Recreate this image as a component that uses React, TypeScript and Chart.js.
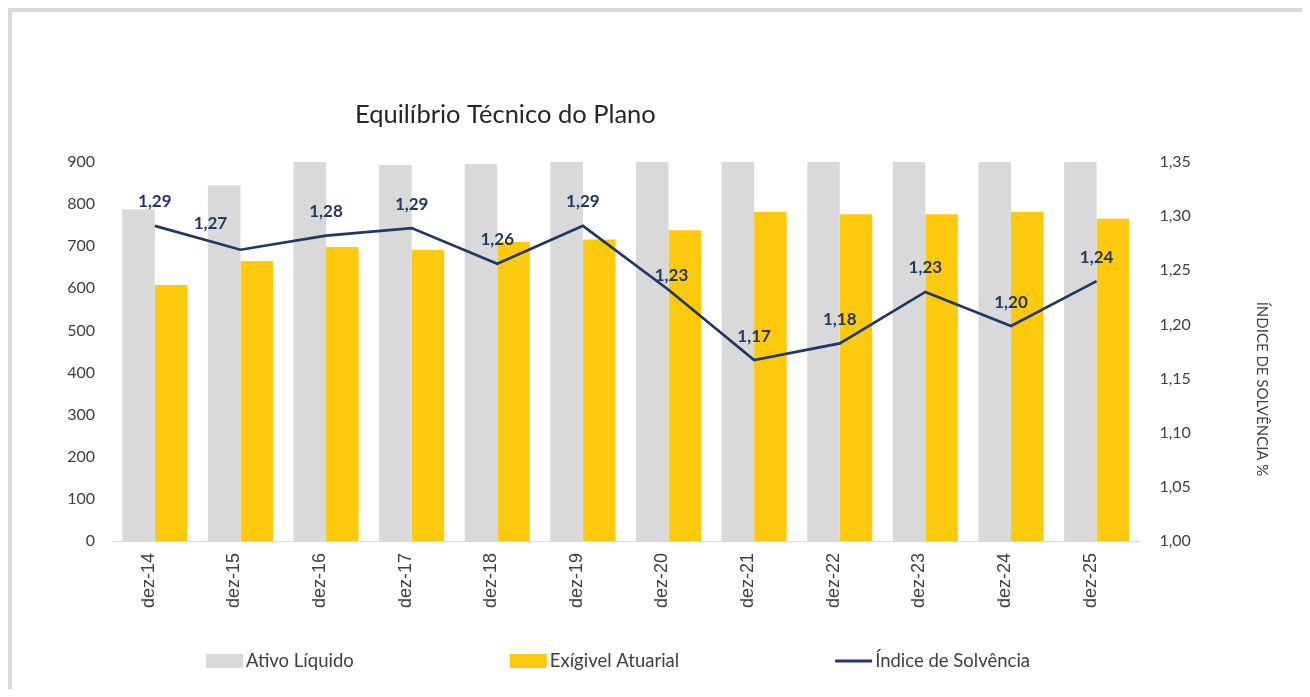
import React, { useEffect, useRef } from 'react';
import { Chart, registerables } from 'chart.js';

Chart.register(...registerables);

// ---------- data ----------
const categories = ['dez-14', 'dez-15', 'dez-16', 'dez-17', 'dez-18', 'dez-19', 'dez-20', 'dez-21', 'dez-22', 'dez-23', 'dez-24', 'dez-25'];
const ativoLiquido = [788, 845, 903, 893, 895, 930, 912, 917, 920, 957, 942, 952];
const exigivelAtuarial = [608, 665, 698, 691, 710, 716, 738, 782, 776, 776, 782, 765];
const indiceSolvencia = [1.291, 1.269, 1.282, 1.289, 1.256, 1.291, 1.232, 1.167, 1.1825, 1.23, 1.1985, 1.24];
const seriesNames = ['Ativo Líquido', 'Exígivel Atuarial', 'Índice de Solvência'];
const leftAxis = { min: 0, max: 900, step: 100 };
const rightAxis = { min: 1.0, max: 1.35, step: 0.05 };
const chartTitle = 'Equilíbrio Técnico do Plano';
const rightAxisTitle = 'ÍNDICE DE SOLVÊNCIA %';

// ---------- styles ----------
const GREY = '#D9D9D9';
const YELLOW = '#FFC90E';
const NAVY = '#1F3864';
const TEXT = '#404040';
const FONT = 'Lato';
// manual nudges of the line's value labels (dx, dy), like the original
const labelNudges: [number, number][] = [[0, 0], [-30, -2], [0, 0], [0, 0], [0, 0], [0, 0], [3, 10], [0, 0], [0, 0], [0, 0], [0, 0], [0, 0]];

const fmt = (v: number) => v.toFixed(2).replace('.', ',');

const overlayPlugin = {
  id: 'overlay',
  afterDatasetsDraw(chart: any) {
    const ctx = chart.ctx;
    const idx = chart.data.datasets.findIndex((d: any) => d.type === 'line');
    const meta = chart.getDatasetMeta(idx);
    ctx.save();
    ctx.font = `bold 17px ${FONT}`;
    ctx.fillStyle = NAVY;
    ctx.textAlign = 'center';
    ctx.textBaseline = 'middle';
    meta.data.forEach((pt: any, i: number) => {
      const [dx, dy] = labelNudges[i] || [0, 0];
      ctx.fillText(fmt(indiceSolvencia[i]), pt.x + dx, pt.y - 24 + dy);
    });
    ctx.restore();
  },
  afterDraw(chart: any) {
    const ctx = chart.ctx;
    ctx.save();
    // title
    ctx.font = `25.5px ${FONT}`;
    ctx.fillStyle = '#262626';
    ctx.textAlign = 'left';
    ctx.textBaseline = 'middle';
    ctx.fillText(chartTitle, 343, 103);
    // right axis title
    ctx.save();
    ctx.translate(1250, 377);
    ctx.rotate(Math.PI / 2);
    ctx.font = `15px ${FONT}`;
    ctx.fillStyle = '#404040';
    ctx.textAlign = 'center';
    ctx.fillText(rightAxisTitle, 0, 0);
    ctx.restore();
    // legend
    ctx.font = `18.5px ${FONT}`;
    const boxW = 37;
    const gap = 3;
    const spacing = 156;
    const widths = chart.data.datasets.map((d: any) => boxW + gap + ctx.measureText(d.label).width);
    const total = widths.reduce((a: number, b: number) => a + b, 0) + spacing * (widths.length - 1);
    let x = 606 - total / 2;
    const y = 649;
    chart.data.datasets.forEach((d: any, i: number) => {
      if (d.type === 'line') {
        ctx.strokeStyle = d.borderColor;
        ctx.lineWidth = 3;
        ctx.beginPath();
        ctx.moveTo(x, y);
        ctx.lineTo(x + boxW, y);
        ctx.stroke();
      } else {
        ctx.fillStyle = d.backgroundColor;
        ctx.fillRect(x, y - 7, boxW, 14);
      }
      ctx.fillStyle = '#404040';
      ctx.textAlign = 'left';
      ctx.fillText(d.label, x + boxW + gap, y);
      x += widths[i] + spacing;
    });
    ctx.restore();
  },
};

export default function App() {
  const ref = useRef<HTMLCanvasElement | null>(null);

  useEffect(() => {
    if (!ref.current) return;
    const chart = new Chart(ref.current, {
      data: {
        labels: categories,
        datasets: [
          {
            type: 'bar',
            label: seriesNames[0],
            data: ativoLiquido,
            yAxisID: 'y',
            backgroundColor: GREY,
            barPercentage: 1,
            categoryPercentage: 0.76,
            order: 1,
          },
          {
            type: 'bar',
            label: seriesNames[1],
            data: exigivelAtuarial,
            yAxisID: 'y',
            backgroundColor: YELLOW,
            barPercentage: 1,
            categoryPercentage: 0.76,
            order: 1,
          },
          {
            type: 'line',
            label: seriesNames[2],
            data: indiceSolvencia,
            yAxisID: 'y1',
            borderColor: NAVY,
            backgroundColor: NAVY,
            borderWidth: 2.7,
            pointRadius: 0,
            tension: 0,
            order: 0,
          } as any,
        ],
      },
      options: {
        animation: false,
        responsive: true,
        maintainAspectRatio: false,
        layout: { padding: { top: 150, left: 0, right: 0, bottom: 38 } },
        plugins: {
          legend: { display: false },
          title: { display: false },
          tooltip: { enabled: false },
        },
        scales: {
          x: {
            grid: { display: false, drawTicks: false },
            border: { display: true, color: GREY, width: 1 },
            ticks: {
              minRotation: 90,
              maxRotation: 90,
              padding: 12,
              labelOffset: -6,
              color: TEXT,
              font: { family: 'Liberation Sans', size: 18 },
            },
            afterFit: (s: any) => { s.height = 110; },
          },
          y: {
            position: 'left',
            min: leftAxis.min,
            max: leftAxis.max,
            grid: { display: false, drawTicks: false },
            border: { display: false },
            ticks: { stepSize: leftAxis.step, padding: 17, color: TEXT, font: { family: FONT, size: 16 } },
            afterFit: (s: any) => { s.width = 100; },
          },
          y1: {
            position: 'right',
            min: rightAxis.min,
            max: rightAxis.max,
            grid: { display: false, drawTicks: false },
            border: { display: false },
            ticks: {
              stepSize: rightAxis.step,
              padding: 20,
              color: TEXT,
              font: { family: FONT, size: 16 },
              callback: (v: any) => fmt(Number(v)),
            },
            afterFit: (s: any) => { s.width = 162.6; },
          },
        },
      } as any,
      plugins: [overlayPlugin],
    });
    return () => chart.destroy();
  }, []);

  return (
    <div
      style={{
        borderTop: '4px solid #D9D9D9',
        borderLeft: '4px solid #D9D9D9',
        width: 1290,
        height: 677,
        background: '#fff',
      }}
    >
      <div style={{ position: 'relative', width: 1290, height: 677 }}>
        <canvas ref={ref} />
      </div>
    </div>
  );
}
